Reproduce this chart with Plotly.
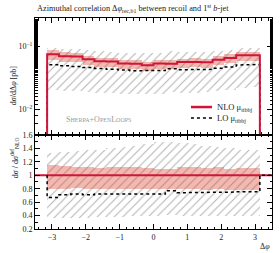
import numpy as np
import plotly.graph_objects as go

# ---- data (18 bins in delta phi from -pi to pi) ----
n_bins = 18
nlo = [0.0746, 0.0695, 0.0690, 0.0622, 0.0580, 0.0576, 0.0533, 0.0530, 0.0499,
       0.0532, 0.0528, 0.0562, 0.0566, 0.0560, 0.0614, 0.0653, 0.0722, 0.0718]
nlo_hi = [0.0870, 0.0800, 0.0790, 0.0712, 0.0662, 0.0660, 0.0608, 0.0604, 0.0570,
          0.0606, 0.0602, 0.0640, 0.0645, 0.0638, 0.0700, 0.0745, 0.0823, 0.0818]
nlo_lo = [0.0610, 0.0570, 0.0566, 0.0510, 0.0476, 0.0472, 0.0437, 0.0435, 0.0410,
          0.0436, 0.0433, 0.0461, 0.0464, 0.0459, 0.0503, 0.0535, 0.0592, 0.0589]
lo = [0.0512, 0.0490, 0.0478, 0.0460, 0.0445, 0.0432, 0.0420, 0.0412, 0.0410,
      0.0415, 0.0440, 0.0425, 0.0428, 0.0432, 0.0450, 0.0470, 0.0505, 0.0515]
lo_hi = [0.095, 0.091, 0.089, 0.086, 0.083, 0.081, 0.079, 0.078, 0.078,
         0.079, 0.083, 0.081, 0.081, 0.082, 0.085, 0.088, 0.093, 0.095]
lo_lo = [0.0206, 0.0200, 0.0196, 0.0190, 0.0186, 0.0182, 0.0178, 0.0176, 0.0175,
         0.0177, 0.0188, 0.0183, 0.0185, 0.0188, 0.0196, 0.0205, 0.0220, 0.0226]

# ratio panel (relative to NLO default)
r_nlo_hi = [1.15, 1.14, 1.12, 1.12, 1.11, 1.12, 1.13, 1.12, 1.11,
            1.10, 1.10, 1.12, 1.12, 1.11, 1.12, 1.10, 1.11, 1.11]
r_nlo_lo = [0.80, 0.80, 0.81, 0.80, 0.80, 0.80, 0.79, 0.80, 0.79,
            0.79, 0.80, 0.79, 0.79, 0.78, 0.79, 0.78, 0.78, 0.78]
r_lo = [0.67, 0.71, 0.72, 0.71, 0.72, 0.72, 0.72, 0.73, 0.72,
        0.72, 0.77, 0.74, 0.74, 0.745, 0.75, 0.75, 0.755, 0.755]
r_lo_hi = [1.33, 1.34, 1.36, 1.37, 1.38, 1.40, 1.42, 1.44, 1.47,
           1.49, 1.50, 1.48, 1.46, 1.44, 1.42, 1.40, 1.38, 1.37]
r_lo_lo = [0.36, 0.37, 0.37, 0.37, 0.38, 0.38, 0.38, 0.39, 0.39,
           0.39, 0.41, 0.40, 0.40, 0.40, 0.40, 0.40, 0.40, 0.40]

x_range = [-3.5, 3.5]
y_top_range = [-2.4, -0.555]
ratio_ticks = [0.2, 0.4, 0.6, 0.8, 1.0, 1.2, 1.4, 1.6]
ratio_ticktext = ["0.2", "0.4", "0.6", "0.8", "1", "1.2", "1.4", "1.6"]
legend_names = ["NLO μ<sub>ttbbj</sub>", "LO μ<sub>ttbbj</sub>"]

edges = np.linspace(-np.pi, np.pi, n_bins + 1)
centers = 0.5 * (edges[:-1] + edges[1:])
width = edges[1] - edges[0]

FONT = "Liberation Serif"
RED = "#d0143c"
PINK = "rgba(244,172,160,0.85)"
HATCH = "#6a6a6a"
TXT = "#222"


def steps(vals):
    xs, ys = [], []
    for i, v in enumerate(vals):
        xs += [edges[i], edges[i + 1]]
        ys += [v, v]
    return xs, ys


def hist_outline(vals, floor):
    xs, ys = steps(vals)
    return [edges[0]] + xs + [edges[-1]], [floor] + ys + [floor]


fig = go.Figure()


def add_band(lo_v, hi_v, xa, ya, color=None, pattern=False):
    lo_a = np.array(lo_v)
    hi_a = np.array(hi_v)
    if pattern:
        marker = dict(color="rgba(0,0,0,0)", line=dict(width=0),
                      pattern=dict(shape="/", fgcolor=HATCH, bgcolor="rgba(0,0,0,0)",
                                   size=6, solidity=0.18))
    else:
        marker = dict(color=color, line=dict(width=0))
    fig.add_trace(go.Bar(x=centers, y=hi_a - lo_a, base=lo_a, width=width,
                         marker=marker, showlegend=False, hoverinfo="skip",
                         xaxis=xa, yaxis=ya))


# ---------- top panel ----------
add_band(nlo_lo, nlo_hi, "x", "y", color=PINK)
add_band(lo_lo, lo_hi, "x", "y", pattern=True)
hx, hy = hist_outline(lo, 1e-4)
fig.add_trace(go.Scatter(x=hx, y=hy, mode="lines",
                         line=dict(color="black", width=1.5, dash="dot"),
                         showlegend=False, xaxis="x", yaxis="y"))
hx, hy = hist_outline(nlo, 1e-4)
fig.add_trace(go.Scatter(x=hx, y=hy, mode="lines",
                         line=dict(color=RED, width=2),
                         showlegend=False, xaxis="x", yaxis="y"))

# ---------- ratio panel ----------
add_band(r_nlo_lo, r_nlo_hi, "x2", "y2", color=PINK)
add_band(r_lo_lo, r_lo_hi, "x2", "y2", pattern=True)
fig.add_trace(go.Scatter(x=x_range, y=[1, 1], mode="lines",
                         line=dict(color=RED, width=2), showlegend=False,
                         xaxis="x2", yaxis="y2"))
rx, ry = hist_outline(r_lo, 1.0)
rx = rx + [x_range[1]]
ry = ry + [1.0]
fig.add_trace(go.Scatter(x=rx, y=ry, mode="lines",
                         line=dict(color="black", width=1.5, dash="dot"), showlegend=False,
                         xaxis="x2", yaxis="y2"))

axis_common = dict(showline=True, linecolor="black", linewidth=1, mirror="allticks",
                   ticks="inside", ticklen=5, tickcolor="black", tickwidth=1,
                   showgrid=False, zeroline=False,
                   tickfont=dict(family=FONT, size=8, color=TXT))
minor_common = dict(ticks="inside", ticklen=2.5, tickcolor="black", showgrid=False)

# legend drawn in paper coordinates
leg_x0, leg_x1, leg_tx = 0.658, 0.747, 0.760
leg_y = [0.578, 0.526]

split = 0.4455
fig.update_layout(
    width=280, height=253,
    margin=dict(l=35, r=8, t=18, b=24),
    paper_bgcolor="white", plot_bgcolor="white",
    font=dict(family=FONT, size=8, color=TXT),
    showlegend=False, barmode="overlay", bargap=0,
    xaxis=dict(domain=[0, 1], range=x_range, anchor="y", showticklabels=False,
               dtick=1, minor=dict(dtick=0.2, **minor_common),
               **axis_common),
    yaxis=dict(domain=[split, 1], type="log", range=y_top_range, anchor="x",
               tickvals=[0.01, 0.1], ticktext=["10<sup>−2</sup>", "10<sup>−1</sup>"],
               minor=dict(**minor_common),
               **axis_common),
    xaxis2=dict(domain=[0, 1], range=x_range, anchor="y2", matches="x",
                tickvals=[-3, -2, -1, 0, 1, 2, 3],
                minor=dict(dtick=0.2, **minor_common),
                **axis_common),
    yaxis2=dict(domain=[0, split], range=[0.1999, 1.6001], anchor="x2",
                tickvals=ratio_ticks, ticktext=ratio_ticktext,
                minor=dict(dtick=0.1, **minor_common),
                **axis_common),
    shapes=[
        dict(type="line", xref="paper", yref="paper", x0=leg_x0, x1=leg_x1,
             y0=leg_y[0], y1=leg_y[0], line=dict(color=RED, width=2.5)),
        dict(type="line", xref="paper", yref="paper", x0=leg_x0, x1=leg_x1,
             y0=leg_y[1], y1=leg_y[1], line=dict(color="black", width=1.5, dash="dot")),
    ],
    annotations=[
        dict(text=legend_names[0], xref="paper", yref="paper", x=leg_tx, y=leg_y[0],
             xanchor="left", yanchor="middle", showarrow=False,
             font=dict(family=FONT, size=8.5, color=TXT)),
        dict(text=legend_names[1], xref="paper", yref="paper", x=leg_tx, y=leg_y[1],
             xanchor="left", yanchor="middle", showarrow=False,
             font=dict(family=FONT, size=8.5, color=TXT)),
        dict(text="Azimuthal correlation Δ<i>φ</i><sub>rec,b1</sub> between recoil and 1<sup>st</sup> <i>b</i>-jet",
             xref="paper", yref="paper", x=0, y=1.045, xanchor="left", yanchor="middle",
             showarrow=False, font=dict(family=FONT, size=8.3, color=TXT)),
        dict(text="d<i>σ</i>/dΔ<i>φ</i> [pb]", xref="paper", yref="paper",
             x=-0.115, y=0.78, textangle=-90, showarrow=False,
             font=dict(family=FONT, size=8, color=TXT)),
        dict(text="d<i>σ</i> / d<i>σ</i><sup>def</sup><sub>NLO</sub>", xref="paper", yref="paper",
             x=-0.115, y=0.23, textangle=-90, showarrow=False,
             font=dict(family=FONT, size=8, color=TXT)),
        dict(text="Δ<i>φ</i>", xref="paper", yref="paper", x=1.0, y=-0.085,
             xanchor="right", yanchor="middle", showarrow=False,
             font=dict(family=FONT, size=8, color=TXT)),
        dict(text="S<span style='font-size:6px'>HERPA</span>+O<span style='font-size:6px'>PEN</span>L<span style='font-size:6px'>OOPS</span>",
             xref="paper", yref="paper", x=0.27, y=0.52, xanchor="center", yanchor="middle",
             showarrow=False, font=dict(family=FONT, size=8, color="#9a9a9a")),
    ],
)

fig.write_html("out.html", config={"displayModeBar": False},
               post_script="document.body.style.margin='0';document.body.style.overflow='hidden';")
